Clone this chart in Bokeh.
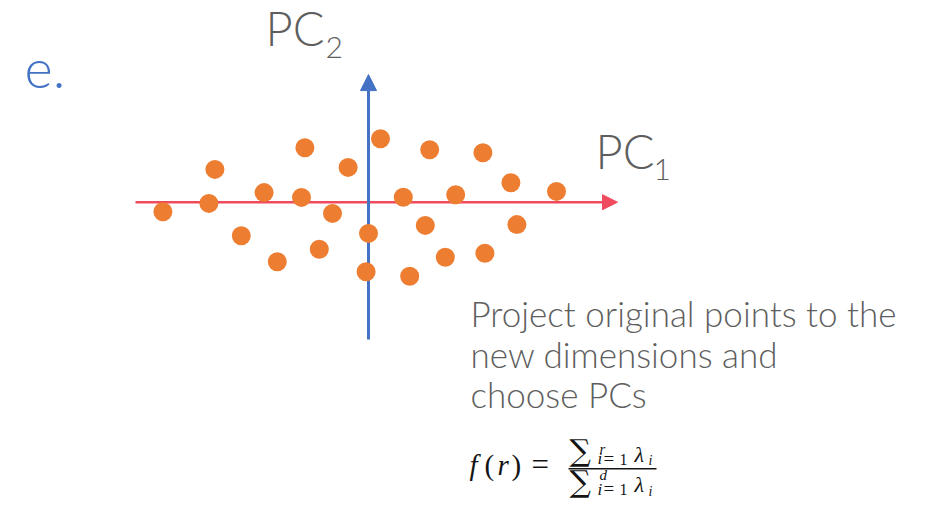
from bokeh.plotting import figure
from bokeh.models import Range1d, Label, Arrow, NormalHead, ColumnDataSource
from bokeh.embed import file_html
from bokeh.resources import INLINE

# ---- data (projected points in PC units) ----
pc1 = [0.30, -1.59, 1.53, 2.86, -3.84, -0.51, 3.56, -2.61, -1.675, 0.87, 2.18, 4.70,
       -3.99, -5.14, -0.90, 1.42, 3.71, 0.0, -3.18, -1.23, -2.28, 1.92, 2.91, -0.06, 1.03]
pc2 = [1.585, 1.36, 1.31, 1.235, 0.82, 0.87, 0.485, 0.24, 0.12, 0.125, 0.185, 0.27,
       -0.03, -0.24, -0.28, -0.58, -0.56, -0.78, -0.84, -1.175, -1.49, -1.375, -1.275, -1.74, -1.85]
axis_pc1 = [-5.825, 6.225]
axis_pc2 = [-3.43, 3.19]
panel_label = "e."
axis_names = ["PC", "PC"]
axis_subs = ["1", "2"]
body_lines = ["Project original points to the", "new dimensions and", "choose PCs"]

# ---- layout helpers (reference pixel -> data) ----
W, H = 948, 505
OX, OY, S = 368.0, 201.7, 40.0
def px(x):
    return (x - OX) / S
def py(y):
    return (OY - y) / S

p = figure(width=W, height=H, output_backend="svg", toolbar_location=None,
           x_range=Range1d(px(0), px(W)), y_range=Range1d(py(H), py(0)),
           min_border=0, outline_line_color=None, background_fill_color="white",
           border_fill_color="white")
p.xaxis.visible = False
p.yaxis.visible = False
p.grid.visible = False

RED = "#EF4A5E"
BLUE = "#4472C4"
ORANGE = "#ED7D31"
GRAY = "#5E5E5E"

p.add_layout(Arrow(x_start=axis_pc1[0], y_start=0, x_end=axis_pc1[1], y_end=0,
                   line_color=RED, line_width=2.5, level="underlay",
                   end=NormalHead(size=15, fill_color=RED, line_color=RED, line_width=1)))
p.add_layout(Arrow(x_start=0, y_start=axis_pc2[0], x_end=0, y_end=axis_pc2[1],
                   line_color=BLUE, line_width=3, level="underlay",
                   end=NormalHead(size=16, fill_color=BLUE, line_color=BLUE, line_width=1)))

src = ColumnDataSource(dict(x=pc1, y=pc2))
p.scatter("x", "y", source=src, size=19, fill_color=ORANGE, line_color=None)

LIGHT = "Lato Light, Lato"
K = 0.42  # observed baseline offset (fraction of font size)

def lab(x, y, text, size, color=GRAY, font=LIGHT, style="normal", align="left"):
    p.add_layout(Label(x=px(x), y=py(y - K * size), text=text, text_font=font,
                       text_font_size=f"{size}px", text_color=color,
                       text_font_style=style, text_baseline="alphabetic",
                       text_align=align))

# panel label
lab(24, 91.5, panel_label, 54, color=BLUE)
# axis names
lab(265, 47, axis_names[1], 47)
lab(325, 60, axis_subs[1], 30)
lab(595, 170, axis_names[0], 47)
lab(653, 181.5, axis_subs[0], 30)
# body text
for i, t in enumerate(body_lines):
    lab(470, 327.5 + 40.5 * i, t, 35)

# formula f(r) = sum_{i=1}^r lambda_i / sum_{i=1}^d lambda_i
SERIF = "Liberation Serif, DejaVu Serif"
INK = "#141414"
lab(469, 477, "f", 29, INK, SERIF, "italic")
lab(484, 477, "(", 29, INK, SERIF)
lab(497, 477, "r", 29, INK, SERIF, "italic")
lab(511, 477, ")", 29, INK, SERIF)
lab(531, 477, "=", 31, INK, SERIF)
p.line(x=[px(568), px(656)], y=[py(468.3), py(468.3)], line_color=INK, line_width=1.6)
for base, sup, sup_y in ((463, "r", 455), (493.5, "d", 480.5)):
    lab(569, base, "\u2211", 30, INK, "DejaVu Serif")
    lab(597, base + 2.5, "i", 17, INK, SERIF, "italic")
    lab(603, base + 2.5, "=", 19, INK, SERIF)
    lab(619, base + 2.5, "1", 16, INK, SERIF)
    lab(599, sup_y, sup, 15, INK, SERIF, "italic")
    lab(634, base, "\u03bb", 22, INK, SERIF, "italic")
    lab(648, base + 3, "i", 14, INK, SERIF, "italic")

open("out.html", "w").write(file_html(p, INLINE))
